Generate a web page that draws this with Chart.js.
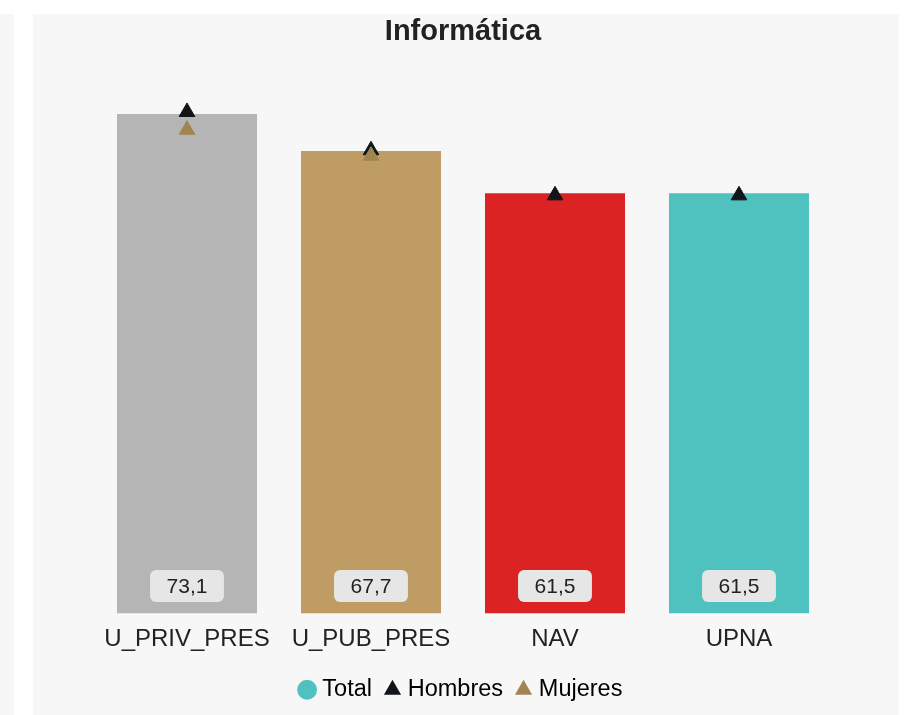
<!DOCTYPE html>
<html>
<head>
<meta charset="utf-8">
<script src="https://cdn.jsdelivr.net/npm/chart.js@4"></script>
<style>
  html, body { margin: 0; padding: 0; background: #ffffff; }
  #strip { position: absolute; left: 0; top: 14px; width: 14px; height: 701px; background: #f7f7f7; }
  #panel { position: absolute; left: 33px; top: 14px; width: 866px; height: 701px; background: #f7f7f7; }
  canvas { display: block; }
</style>
</head>
<body>
<div id="strip"></div>
<div id="panel"><canvas id="c" width="866" height="701"></canvas></div>
<script>
const title = 'Informática';
const categories = ['U_PRIV_PRES', 'U_PUB_PRES', 'NAV', 'UPNA'];
const totalValues = [73.1, 67.7, 61.5, 61.5];
const hombresValues = [73.4, 67.8, 61.2, 61.2];
const mujeresValues = [70.8, 67.0, null, null];
const seriesNames = ['Total', 'Hombres', 'Mujeres'];
const barColors = ['#b5b5b5', '#be9c63', '#dc2323', '#4fc1be'];
const hombresColor = '#111418';
const mujeresColor = '#a08550';
const yMax = 80;

const FONT = "'Liberation Sans', Arial, sans-serif";

const valueLabels = {
  id: 'valueLabels',
  afterDatasetsDraw(chart) {
    const meta = chart.getDatasetMeta(0);
    const ctx = chart.ctx;
    ctx.save();
    ctx.font = '21px ' + FONT;
    ctx.textAlign = 'center';
    ctx.textBaseline = 'middle';
    meta.data.forEach((bar, i) => {
      const v = totalValues[i];
      if (v == null) return;
      const txt = v.toFixed(1).replace('.', ',');
      const w = ctx.measureText(txt).width + 33;
      const h = 32;
      const cx = bar.x;
      const cy = bar.base - 27.5;
      ctx.fillStyle = '#e6e6e6';
      ctx.beginPath();
      ctx.roundRect(cx - w / 2, cy - h / 2, w, h, 6);
      ctx.fill();
      ctx.fillStyle = '#222222';
      ctx.fillText(txt, cx, cy + 1);
    });
    ctx.restore();
  }
};

new Chart(document.getElementById('c'), {
  data: {
    labels: categories,
    datasets: [
      {
        type: 'bar',
        label: seriesNames[0],
        data: totalValues,
        backgroundColor: barColors,
        borderWidth: 0,
        categoryPercentage: 0.8,
        barPercentage: 0.951,
        order: 3
      },
      {
        type: 'line',
        label: seriesNames[1],
        data: hombresValues,
        showLine: false,
        pointStyle: 'triangle',
        pointRadius: 9,
        pointBorderWidth: 1,
        backgroundColor: hombresColor,
        borderColor: hombresColor,
        order: 2
      },
      {
        type: 'line',
        label: seriesNames[2],
        data: mujeresValues,
        showLine: false,
        pointStyle: 'triangle',
        pointRadius: 9,
        pointBorderWidth: 1,
        backgroundColor: mujeresColor,
        borderColor: mujeresColor,
        order: 1
      }
    ]
  },
  options: {
    responsive: false,
    animation: false,
    layout: { padding: { left: 62, right: 68, top: 0, bottom: 3.5 } },
    scales: {
      x: {
        grid: { display: false, drawTicks: false },
        border: { display: false },
        ticks: { color: '#222222', font: { family: FONT, size: 24 }, padding: 11 },
        afterFit(axis) { axis.height = 47.5; }
      },
      y: {
        display: false,
        min: 0,
        max: yMax
      }
    },
    plugins: {
      title: {
        display: true,
        text: title,
        color: '#222222',
        font: { family: FONT, size: 29, weight: 'bold', lineHeight: 1.1 },
        padding: { top: 2, bottom: 19 }
      },
      legend: {
        position: 'bottom',
        labels: {
          usePointStyle: true,
          boxWidth: 7,
          boxHeight: 14,
          padding: 17,
          color: '#222222',
          font: { family: FONT, size: 23.5 },
          generateLabels() {
            return [
              { text: seriesNames[0], fillStyle: barColors[3], strokeStyle: barColors[3], lineWidth: 0, pointStyle: 'circle', datasetIndex: 0, hidden: false },
              { text: seriesNames[1], fillStyle: hombresColor, strokeStyle: hombresColor, lineWidth: 0, pointStyle: 'triangle', datasetIndex: 1, hidden: false },
              { text: seriesNames[2], fillStyle: mujeresColor, strokeStyle: mujeresColor, lineWidth: 0, pointStyle: 'triangle', datasetIndex: 2, hidden: false }
            ];
          }
        }
      },
      tooltip: { enabled: false }
    }
  },
  plugins: [valueLabels]
});
</script>
</body>
</html>
